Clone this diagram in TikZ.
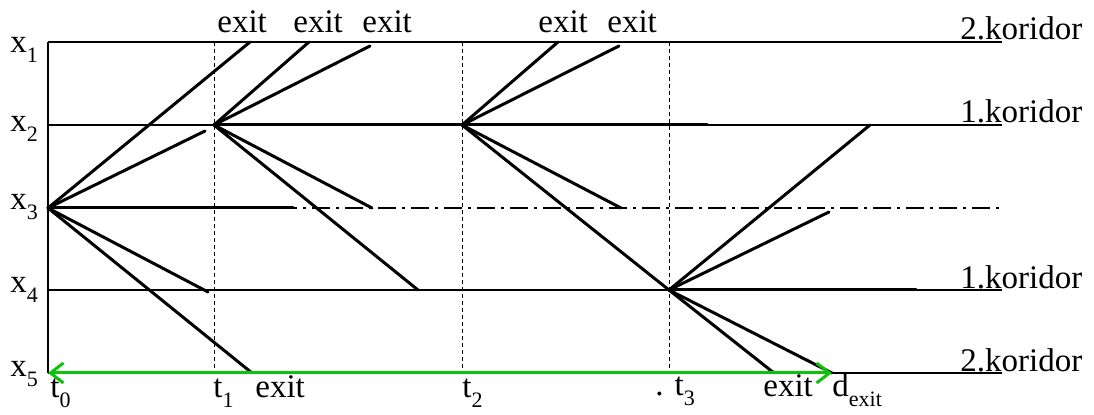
\documentclass[tikz,border=0pt]{standalone}
\usepackage{fontspec}
\setmainfont{Liberation Serif}
\usetikzlibrary{arrows.meta}
\definecolor{exitgreen}{RGB}{10,195,10}
\newcommand{\lsub}[1]{\raisebox{-5pt}{\fontsize{11}{12}\selectfont #1}}

\begin{document}
\begin{tikzpicture}[x=0.5pt, y=-0.5pt,
  corridor/.style={line width=0.7pt},
  timeline/.style={line width=0.5pt, dash pattern=on 2pt off 1.5pt},
  midline/.style={line width=0.7pt, dash pattern=on 9pt off 3pt on 1.5pt off 3pt},
  route/.style={line width=1.5pt, line cap=round},
  exitarrow/.style={line width=1.5pt, draw=exitgreen,
                    {Straight Barb[length=6.5pt, width=10pt]}-{Straight Barb[length=6.5pt, width=10pt]}},
  lbl/.style={inner sep=0pt, anchor=base west, font=\fontsize{16.5}{20}\selectfont}
]
\useasboundingbox (0,0) rectangle (1094,415);

\coordinate (o1) at (48,42);
\coordinate (o3) at (48,208);
\coordinate (o5) at (48,373);
\draw[corridor] (o1) -- (o5);
\foreach \y in {42,125,290,373}
  \draw[corridor] (48,\y) -- (1002,\y);
\draw[midline] (o3) -- (1002,208);
\foreach \x in {214,462,669}
  \draw[timeline] (\x,42) -- (\x,373);

\foreach \y/\i in {53/1,132/2,210/3,293/4,377/5}
  \node[lbl] (x\i) at (10,\y) {x\lsub{\i}};

\node[lbl] (k2top) at (960,40)  {2.koridor};
\node[lbl] (k1top) at (960,123) {1.koridor};
\node[lbl] (k1bot) at (960,289) {1.koridor};
\node[lbl] (k2bot) at (960,372) {2.koridor};

\coordinate (a0) at (48,208);
\coordinate (a1) at (214,125);
\coordinate (a2) at (462,125);
\coordinate (a3) at (669,290);

\coordinate (b1) at (250,42);
\coordinate (b2) at (205,131);
\coordinate (b3) at (293,208);
\coordinate (b4) at (208,292);
\coordinate (b5) at (252,373);
\foreach \e in {b1,b2,b3,b4,b5}
  \draw[route] (a0) -- (\e);

\coordinate (c1) at (309,42);
\coordinate (c2) at (370,46);
\coordinate (c3) at (372,208);
\coordinate (c4) at (418,290);
\foreach \e in {c1,c2,c3,c4}
  \draw[route] (a1) -- (\e);
\draw[route] (a1) -- (a2);

\coordinate (d1) at (558,42);
\coordinate (d2) at (619,46);
\coordinate (d3) at (707,125);
\coordinate (d4) at (621,208);
\foreach \e in {d1,d2,d3,d4}
  \draw[route] (a2) -- (\e);
\draw[route] (a2) -- (a3);

\coordinate (f1) at (870,125);
\coordinate (f2) at (829,212);
\coordinate (f3) at (916,290);
\coordinate (f4) at (774,373);
\coordinate (dexit) at (832,373);
\foreach \e in {f1,f2,f3,f4,dexit}
  \draw[route] (a3) -- (\e);

\draw[exitarrow] (o5) -- (dexit);

\node[lbl] (ex1) at (217,33) {exit};
\node[lbl] (ex2) at (293,33) {exit};
\node[lbl] (ex3) at (362,33) {exit};
\node[lbl] (ex4) at (538,33) {exit};
\node[lbl] (ex5) at (607,33) {exit};

\node[lbl] (t0) at (50,398)  {t\lsub{0}};
\node[lbl] (t1) at (213,398) {t\lsub{1}};
\node[lbl] (t2) at (462,398) {t\lsub{2}};
\node[lbl] (t3) at (655,396) {. t\lsub{3}};
\node[lbl] (ex6) at (255,398) {exit};
\node[lbl] (ex7) at (763,397) {exit};
\node[lbl] (dex) at (832,397) {d\lsub{exit}};
\end{tikzpicture}
\end{document}
